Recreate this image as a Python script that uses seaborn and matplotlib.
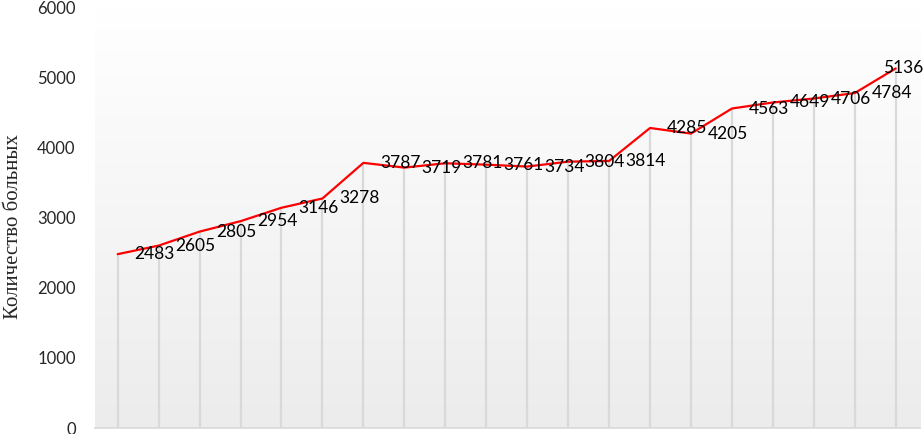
import numpy as np
import pandas as pd
import matplotlib
matplotlib.use("Agg")
import matplotlib.pyplot as plt
import seaborn as sns

# data
points = list(range(1, 21))
patients = [2483, 2605, 2805, 2954, 3146, 3278, 3787, 3719, 3781, 3761,
            3734, 3804, 3814, 4285, 4205, 4563, 4649, 4706, 4784, 5136]
y_ticks = [0, 1000, 2000, 3000, 4000, 5000, 6000]
y_title = "Количество больных"

df = pd.DataFrame({"idx": range(len(points)), "n": patients})

sns.set_style("white")
plt.rcParams['font.family'] = ['Lato', 'DejaVu Sans']

fig = plt.figure(figsize=(9.24, 4.34), dpi=100)
ax = fig.add_axes([0.103, 0.0138, 0.893, 0.968])

# soft grey gradient background of the plot area
grad = np.linspace(0, 1, 256).reshape(-1, 1)
cmap = matplotlib.colors.LinearSegmentedColormap.from_list("bg", ["#ffffff", "#ececec"])
ax.imshow(grad, aspect="auto", cmap=cmap, extent=[0, 1, 0, 1],
          transform=ax.transAxes, zorder=0)

# drop lines from each point to the axis
ax.vlines(df["idx"], 0, df["n"], color="#d9d9d9", lw=1.6, zorder=1)

sns.lineplot(data=df, x="idx", y="n", color="#ff0000", lw=1.6, ax=ax, zorder=3)

# value labels to the right of each point
last = len(df) - 1
for i, v in zip(df["idx"], df["n"]):
    dx = -9 if i == last else 12
    ax.annotate(str(v), (i, v), xytext=(dx, 0), textcoords="offset points",
                ha="left", va="center", fontsize=12.5, color="black", zorder=4,
                annotation_clip=False)

ax.set_xlim(-0.55, 19.6)
ax.set_ylim(0, 6000)
ax.set_yticks(y_ticks)
ax.set_yticklabels([str(t) for t in y_ticks], fontsize=12)
ax.set_xticks([])
ax.tick_params(axis="y", length=0, pad=14)
ax.set_xlabel("")
ax.set_ylabel(y_title, family=["Liberation Serif", "DejaVu Serif"], fontsize=15)
ax.yaxis.set_label_coords(-0.088, 0.48)

for s in ["top", "right", "left"]:
    ax.spines[s].set_visible(False)
ax.spines["bottom"].set_color("#d9d9d9")
ax.spines["bottom"].set_linewidth(1.2)

fig.savefig("out.png", dpi=100)
